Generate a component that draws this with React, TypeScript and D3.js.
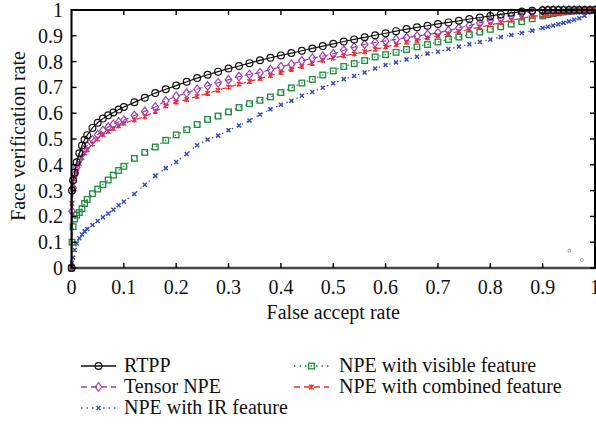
import React from 'react';
import * as d3 from 'd3';

// False accept rate sample points
const far = [
  0, 0.001, 0.003, 0.006, 0.01, 0.015, 0.02, 0.025, 0.03, 0.04, 0.05, 0.06, 0.07, 0.08, 0.09, 0.1,
  0.12, 0.14, 0.16, 0.18, 0.2, 0.22, 0.24, 0.26, 0.28, 0.3, 0.32, 0.34, 0.36, 0.38, 0.4,
  0.42, 0.44, 0.46, 0.48, 0.5, 0.52, 0.54, 0.56, 0.58, 0.6, 0.62, 0.64, 0.66, 0.68, 0.7,
  0.72, 0.74, 0.76, 0.78, 0.8, 0.82, 0.84, 0.86, 0.88, 0.9,
  0.91, 0.92, 0.93, 0.94, 0.95, 0.96, 0.97, 0.98, 0.99, 1.0,
];

const rtpp = [
  0, 0.3, 0.34, 0.37, 0.41, 0.445, 0.475, 0.497, 0.515, 0.543, 0.563, 0.579, 0.592, 0.603, 0.614, 0.624,
  0.642, 0.66, 0.678, 0.693, 0.707, 0.722, 0.736, 0.749, 0.761, 0.773, 0.783, 0.794, 0.805, 0.815, 0.824,
  0.833, 0.842, 0.851, 0.86, 0.869, 0.878, 0.886, 0.894, 0.902, 0.91, 0.918, 0.926, 0.933, 0.939, 0.946,
  0.952, 0.958, 0.965, 0.971, 0.977, 0.983, 0.989, 0.994, 0.997, 0.999,
  1, 1, 1, 1, 1, 1, 1, 1, 1, 1,
];

const tensorNpe = [
  0, 0.22, 0.31, 0.36, 0.39, 0.42, 0.443, 0.46, 0.474, 0.497, 0.517, 0.533, 0.546, 0.557, 0.566, 0.573,
  0.591, 0.607, 0.624, 0.648, 0.666, 0.678, 0.693, 0.706, 0.718, 0.73, 0.742, 0.75, 0.757, 0.769, 0.78,
  0.79, 0.803, 0.813, 0.821, 0.83, 0.844, 0.856, 0.867, 0.874, 0.88, 0.886, 0.893, 0.899, 0.905, 0.912,
  0.92, 0.93, 0.94, 0.95, 0.96, 0.969, 0.978, 0.987, 0.994, 0.998,
  0.999, 1, 1, 1, 1, 1, 1, 1, 1, 1,
];

const npeIr = [
  0, 0.02, 0.04, 0.07, 0.095, 0.115, 0.13, 0.142, 0.151, 0.167, 0.182, 0.197, 0.211, 0.226, 0.243, 0.257,
  0.287, 0.323, 0.357, 0.387, 0.411, 0.442, 0.476, 0.498, 0.513, 0.534, 0.552, 0.572, 0.595, 0.615, 0.633,
  0.648, 0.668, 0.682, 0.699, 0.716, 0.732, 0.744, 0.758, 0.773, 0.787, 0.797, 0.808, 0.819, 0.831, 0.838,
  0.849, 0.858, 0.867, 0.876, 0.886, 0.895, 0.903, 0.911, 0.92, 0.93,
  0.935, 0.94, 0.945, 0.95, 0.956, 0.962, 0.968, 0.978, 0.992, 1,
];

const npeVisible = [
  0, 0.1, 0.16, 0.19, 0.205, 0.215, 0.23, 0.25, 0.266, 0.288, 0.306, 0.323, 0.341, 0.36, 0.378, 0.394,
  0.425, 0.448, 0.469, 0.495, 0.516, 0.536, 0.556, 0.576, 0.589, 0.605, 0.622, 0.637, 0.65, 0.663, 0.68,
  0.698, 0.717, 0.731, 0.748, 0.764, 0.781, 0.792, 0.804, 0.818, 0.827, 0.836, 0.847, 0.857, 0.866, 0.876,
  0.886, 0.895, 0.904, 0.914, 0.925, 0.935, 0.945, 0.955, 0.966, 0.977,
  0.982, 0.986, 0.989, 0.992, 0.994, 0.996, 0.997, 0.998, 0.999, 1,
];

const npeCombined = [
  0, 0.25, 0.31, 0.345, 0.375, 0.405, 0.428, 0.445, 0.458, 0.48, 0.5, 0.517, 0.529, 0.54, 0.551, 0.561,
  0.574, 0.587, 0.607, 0.628, 0.643, 0.653, 0.665, 0.677, 0.689, 0.701, 0.713, 0.723, 0.734, 0.746, 0.758,
  0.77, 0.781, 0.793, 0.805, 0.814, 0.822, 0.83, 0.838, 0.848, 0.857, 0.866, 0.875, 0.882, 0.892, 0.9,
  0.908, 0.917, 0.925, 0.934, 0.942, 0.951, 0.96, 0.968, 0.975, 0.979,
  0.982, 0.985, 0.988, 0.99, 0.993, 0.995, 0.997, 0.998, 0.999, 1,
];

const ticks = [0, 0.1, 0.2, 0.3, 0.4, 0.5, 0.6, 0.7, 0.8, 0.9, 1];

// two faint specks in the lower right corner of the original
const specks = [
  [0.951, 0.067],
  [0.975, 0.031],
];

type Marker = 'circle' | 'diamond' | 'x' | 'square' | 'star';

const series: { name: string; values: number[]; color: string; dash: string; marker: Marker }[] = [
  { name: 'RTPP', values: rtpp, color: '#111', dash: '', marker: 'circle' },
  { name: 'Tensor NPE', values: tensorNpe, color: '#a13fb3', dash: '6,4', marker: 'diamond' },
  { name: 'NPE with IR feature', values: npeIr, color: '#3552b4', dash: '1.5,4', marker: 'x' },
  { name: 'NPE with visible feature', values: npeVisible, color: '#1d8a3d', dash: '1.5,4', marker: 'square' },
  { name: 'NPE with combined feature', values: npeCombined, color: '#e8302c', dash: '6,4', marker: 'star' },
];

const drawOrder = [2, 3, 4, 1, 0];

const FONT = '"Liberation Serif", "DejaVu Serif", serif';
const FS = 20;

function MarkerShape({ type, x, y, color }: { type: Marker; x: number; y: number; color: string }) {
  switch (type) {
    case 'circle':
      return <circle cx={x} cy={y} r={3.4} fill="none" stroke={color} strokeWidth={1.2} />;
    case 'diamond':
      return (
        <path
          d={`M${x},${y - 4.3}L${x + 3.3},${y}L${x},${y + 4.3}L${x - 3.3},${y}Z`}
          fill="none"
          stroke={color}
          strokeWidth={1.2}
        />
      );
    case 'square':
      return <rect x={x - 2.8} y={y - 2.8} width={5.6} height={5.6} fill="none" stroke={color} strokeWidth={1.3} />;
    case 'x':
      return (
        <path
          d={`M${x - 2},${y - 2}L${x + 2},${y + 2}M${x - 2},${y + 2}L${x + 2},${y - 2}`}
          stroke={color}
          strokeWidth={1.5}
        />
      );
    case 'star':
      return (
        <path
          d={`M${x - 2.2},${y - 2.2}L${x + 2.2},${y + 2.2}M${x - 2.2},${y + 2.2}L${x + 2.2},${y - 2.2}M${x},${y - 2.6}L${x},${y + 2.6}`}
          stroke={color}
          strokeWidth={1.4}
        />
      );
  }
}

export default function App() {
  const width = 596;
  const height = 426;
  const left = 71.5;
  const right = 595;
  const top = 10;
  const bottom = 268;

  const x = d3.scaleLinear().domain([0, 1]).range([left, right]);
  const y = d3.scaleLinear().domain([0, 1]).range([bottom, top]);

  const line = d3
    .line<number>()
    .x((_, i) => x(far[i]))
    .y((d) => y(d));

  const legendRows = [
    { s: series[0], lx: 81, tx: 124, ly: 366 },
    { s: series[1], lx: 81, tx: 124, ly: 387 },
    { s: series[2], lx: 81, tx: 124, ly: 408 },
    { s: series[3], lx: 294, tx: 339, ly: 366 },
    { s: series[4], lx: 294, tx: 339, ly: 387 },
  ];

  return (
    <svg
      width={width}
      height={height}
      style={{ position: 'absolute', left: 0, top: 0, background: '#fff' }}
      fontFamily={FONT}
    >
      <defs>
        <clipPath id="plot">
          <rect x={left - 4} y={top - 6} width={right - left + 8} height={bottom - top + 10} />
        </clipPath>
      </defs>

      {/* curves */}
      <g clipPath="url(#plot)">
        {drawOrder.map((k) => {
          const s = series[k];
          return (
            <g key={s.name}>
              <path d={line(s.values) || ''} fill="none" stroke={s.color} strokeWidth={1.2} strokeDasharray={s.dash} />
              {s.values.map((v, i) => (
                <MarkerShape key={i} type={s.marker} x={x(far[i])} y={y(v)} color={s.color} />
              ))}
            </g>
          );
        })}
        {specks.map(([a, b], i) => (
          <circle key={i} cx={x(a)} cy={y(b)} r={1.4} fill="none" stroke="#888" strokeWidth={0.8} />
        ))}
      </g>

      {/* frame and inward ticks */}
      <rect x={left} y={top} width={right - left} height={bottom - top} fill="none" stroke="#000" strokeWidth={2} />
      <line x1={left} x2={right} y1={bottom} y2={bottom} stroke="#444" strokeWidth={2.4} />
      {ticks.map((t) => (
        <g key={t}>
          <line x1={x(t)} x2={x(t)} y1={bottom} y2={bottom - 5} stroke="#000" strokeWidth={1.4} />
          <line x1={x(t)} x2={x(t)} y1={top} y2={top + 5} stroke="#000" strokeWidth={1.4} />
          <line x1={left} x2={left + 5} y1={y(t)} y2={y(t)} stroke="#000" strokeWidth={1.4} />
          <line x1={right} x2={right - 5} y1={y(t)} y2={y(t)} stroke="#000" strokeWidth={1.4} />
          <text x={x(t)} y={294} fontSize={FS} textAnchor="middle" fill="#111">
            {t}
          </text>
          <text x={63} y={y(t) + 7} fontSize={FS} textAnchor="end" fill="#111">
            {t}
          </text>
        </g>
      ))}

      {/* axis titles */}
      <text x={(left + right) / 2} y={319} fontSize={FS} textAnchor="middle" fill="#111">
        False accept rate
      </text>
      <text transform="translate(25,136) rotate(-90)" fontSize={FS} textAnchor="middle" fill="#111">
        Face verification rate
      </text>

      {/* legend */}
      {legendRows.map(({ s, lx, tx, ly }) => (
        <g key={s.name}>
          <line x1={lx} x2={lx + 35} y1={ly} y2={ly} stroke={s.color} strokeWidth={1.3} strokeDasharray={s.dash} />
          <MarkerShape type={s.marker} x={lx + 17.5} y={ly} color={s.color} />
          <text x={tx} y={ly + 6} fontSize={FS} fill="#111">
            {s.name}
          </text>
        </g>
      ))}
    </svg>
  );
}
